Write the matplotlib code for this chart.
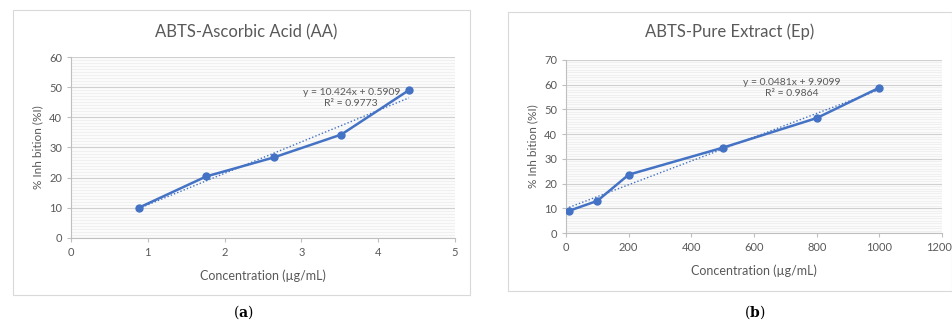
import numpy as np
import matplotlib.pyplot as plt
import matplotlib.transforms as mtransforms
from matplotlib.patches import Rectangle
from matplotlib.ticker import MultipleLocator

plt.rcParams['font.family'] = ['Lato', 'DejaVu Sans']
plt.rcParams['mathtext.fontset'] = 'dejavuserif'

# ABTS assay, ascorbic acid standard
aa_conc = [0.88, 1.76, 2.64, 3.52, 4.40]
aa_inhib = [10.0, 20.4, 26.7, 34.3, 49.0]
aa_slope, aa_icpt, aa_r2 = 10.424, 0.5909, 0.9773

# ABTS assay, pure extract
ep_conc = [10, 100, 200, 500, 800, 1000]
ep_inhib = [9.0, 13.0, 23.6, 34.5, 46.5, 58.8]
ep_slope, ep_icpt, ep_r2 = 0.0481, 9.9099, 0.9864

blue = '#4472C4'
grey = '#595959'

fig = plt.figure(figsize=(9.53, 3.21), dpi=100)

# chart frames, kept behind the axes
for x0, y0, w, h in [(0.0136, 0.081, 0.4794, 0.888), (0.533, 0.093, 0.466, 0.870)]:
    fig.patches.append(Rectangle((x0, y0), w, h, transform=fig.transFigure,
                                 facecolor='white', edgecolor='#d9d9d9', lw=0.8,
                                 zorder=-5))


def panel(rect, xs, ys, slope, icpt, r2, xmax, xstep, ymax, title, title_x,
          eq_xy, caption, cap_x):
    ax = fig.add_axes(rect)
    ax.set_zorder(2)
    ax.set_facecolor('#fbfbfb')
    ax.plot(xs, ys, color=blue, lw=1.8, marker='o', ms=5, zorder=3)
    fx = np.array([xs[0], xs[-1]])
    ax.plot(fx, slope * fx + icpt, color=blue, lw=1.0, ls=(0, (1, 1.5)), zorder=2)
    ax.set_xlim(0, xmax)
    ax.set_ylim(0, ymax)
    ax.set_xticks(np.arange(0, xmax + xstep / 2, xstep))
    ax.yaxis.set_major_locator(MultipleLocator(10))
    ax.yaxis.set_minor_locator(MultipleLocator(1))
    ax.grid(axis='y', which='major', color='#d0d0d0', lw=0.8)
    ax.grid(axis='y', which='minor', color='#ececec', lw=0.5)
    ax.tick_params(which='minor', left=False)
    ax.tick_params(colors=grey, labelsize=8, length=3, color='#bfbfbf')
    for s in ['top', 'right']:
        ax.spines[s].set_visible(False)
    for s in ['left', 'bottom']:
        ax.spines[s].set_color('#bfbfbf')
    ax.set_xlabel('Concentration (µg/mL)', color=grey, fontsize=9, labelpad=8)
    ax.set_ylabel('% Inh bition (%I)', color=grey, fontsize=8.5)
    fig.text(title_x, 0.90, title, color=grey, fontsize=12, ha='center', va='center')
    ax.text(eq_xy[0], eq_xy[1], f'y = {slope}x + {icpt}\nR² = {r2}',
            color=grey, fontsize=7.5, ha='center', va='center', linespacing=1.3)
    fig.text(cap_x, 0.028, '($\\mathbf{' + caption + '}$)', ha='center', va='center',
             fontsize=10, family='DejaVu Serif')
    return ax


panel([0.0745, 0.2586, 0.4029, 0.5638], aa_conc, aa_inhib, aa_slope, aa_icpt, aa_r2,
      5, 1, 60, 'ABTS-Ascorbic Acid (AA)', 0.258, (3.65, 46.5), 'a', 0.255)
ax_b = panel([0.5939, 0.2741, 0.3946, 0.539], ep_conc, ep_inhib, ep_slope, ep_icpt, ep_r2,
             1200, 200, 70, 'ABTS-Pure Extract (Ep)', 0.766, (721, 58.7), 'b', 0.792)

# last tick label sits against the right edge of the figure
last = ax_b.get_xticklabels()[-1]
last.set_horizontalalignment('right')
last.set_transform(last.get_transform()
                   + mtransforms.ScaledTranslation(10 / 100, 0, fig.dpi_scale_trans))

fig.savefig('out.png', dpi=100)
